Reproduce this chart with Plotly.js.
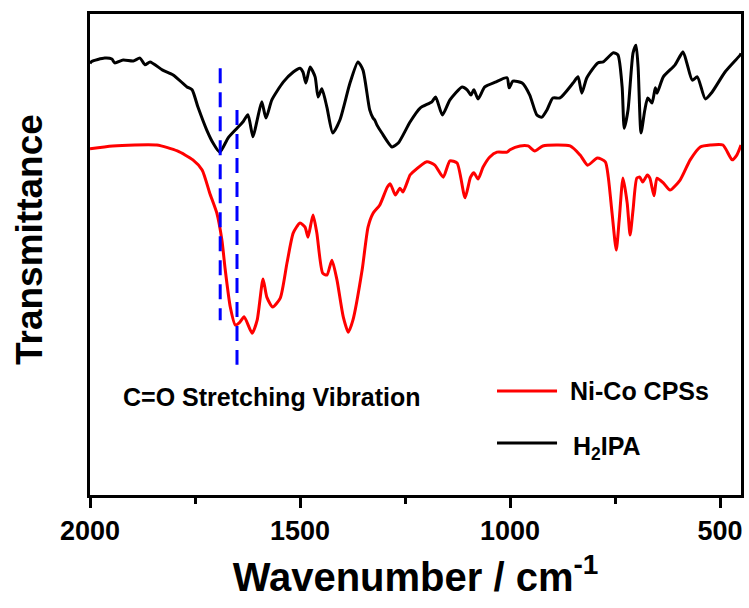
<!DOCTYPE html>
<html>
<head>
<meta charset="utf-8">
<script src="https://cdn.plot.ly/plotly-3.0.1.min.js"></script>
<style>html,body{margin:0;padding:0;background:#fff;}#chart{width:749px;height:608px;}</style>
</head>
<body>
<div id="chart"></div>
<script>
// Wavenumber (cm-1) and transmittance (arb. units)
const h2ipaWavenumber = [2000,1996,1965,1948,1941,1921,1897,1881,1869,1857,1827,1802,1769,1757,1743,1722,1707,1691,1671,1650,1636,1624,1612,1602,1591,1581,1567,1540,1516,1500,1493,1486,1476,1464,1457,1448,1436,1422,1405,1381,1362,1350,1334,1326,1322,1317,1305,1281,1266,1238,1214,1186,1177,1161,1143,1114,1102,1093,1086,1076,1060,1035,1007,1002,993,971,953,936,924,912,898,881,850,838,829,817,791,778,754,743,733,728,719,707,700,695,688,679,672,662,654,650,635,607,588,579,566,554,535,519,488,452,450];
const h2ipaT = [89.5,89.9,90.6,90.4,89.6,90.2,90.0,90.6,89.2,89.8,88.1,87.1,84.6,84.0,80.4,75.6,72.9,71.0,74.0,76.0,77.3,78.8,74.2,77.7,81.5,78.1,81.9,85.6,87.7,88.5,87.7,85.4,88.75,86.7,82.5,84.2,80.4,75.0,77.7,85.4,89.8,88.1,79.8,78.1,77.7,76.7,75.0,72.1,72.9,77.3,80.2,81.5,82.5,78.75,81.9,84.6,84.0,82.9,84.0,82.1,84.6,85.6,86.5,84.4,85.8,85.4,82.9,78.75,78.3,79.8,82.3,82.3,85.4,86.7,83.3,86.5,89.6,89.8,91.7,91.25,84.6,76.0,79.8,91.7,93.3,88.75,75.0,79.8,82.3,81.25,84.4,83.3,86.7,89.2,91.9,89.6,86.0,86.7,82.1,83.5,87.7,91.25,91.6];

const nicoWavenumber = [2000,1946,1841,1792,1755,1733,1715,1698,1686,1678,1666,1654,1643,1633,1614,1602,1588,1579,1565,1547,1531,1516,1500,1488,1481,1469,1460,1446,1436,1424,1412,1397,1385,1374,1352,1338,1326,1310,1292,1285,1273,1262,1255,1238,1233,1198,1179,1159,1143,1126,1107,1094,1086,1076,1064,1048,1031,1007,1000,976,957,941,922,857,833,815,792,773,766,757,747,740,731,721,714,707,698,691,684,673,667,657,650,635,619,595,571,547,523,493,471,460,450];
const nicoT = [71.7,72.3,72.5,71.25,69.4,67.3,62.5,58.3,52.7,46.5,38.75,35.0,35.6,36.7,33.3,36.0,44.6,40.8,38.75,40.6,47.9,54.2,56.25,55.4,53.3,57.9,54.2,45.8,45.4,48.5,44.4,36.7,33.5,36.0,46.5,55.4,58.3,60.0,63.75,64.4,62.1,63.5,62.7,66.25,66.7,69.0,68.3,65.8,69.2,68.75,61.5,65.8,66.7,65.4,67.9,70.0,71.0,71.0,71.5,72.3,72.3,71.25,72.3,72.3,70.4,68.3,69.8,69.0,65.8,58.3,50.6,56.9,65.6,60.4,53.75,59.0,65.6,65.8,64.8,66.25,65.6,61.9,65.6,64.6,63.1,65.2,69.4,72.1,72.5,72.5,69.4,70.4,72.5];

// C=O stretching guide lines
const guide1Wavenumber = [1690,1690];
const guide1T = [88.5,36.0];
const guide2Wavenumber = [1650,1650];
const guide2T = [79.8,26.7];

const xTickVals = [2000,1500,1000,500];
const xTickText = ['2000','1500','1000','500'];

const seriesNames = ['Ni-Co CPSs','H<sub>2</sub>IPA'];
const annotationText = 'C=O Stretching Vibration';
const yTitleText = 'Transmittance';
const xTitleText = 'Wavenumber / cm<sup>-1</sup>';

const FONT = 'Liberation Sans, Arial, Helvetica, sans-serif';

const traces = [
  {x: h2ipaWavenumber, y: h2ipaT, type:'scatter', mode:'lines', name: seriesNames[1],
   line:{color:'#000000', width:3, shape:'spline', smoothing:0.6}, showlegend:false, hoverinfo:'x+y'},
  {x: nicoWavenumber, y: nicoT, type:'scatter', mode:'lines', name: seriesNames[0],
   line:{color:'#ff0000', width:3, shape:'spline', smoothing:0.6}, showlegend:false, hoverinfo:'x+y'},
  {x: guide1Wavenumber, y: guide1T, type:'scatter', mode:'lines', showlegend:false,
   line:{color:'#0000ff', width:3, dash:'15px,9px'}, hoverinfo:'skip'},
  {x: guide2Wavenumber, y: guide2T, type:'scatter', mode:'lines', showlegend:false,
   line:{color:'#0000ff', width:3, dash:'15px,9px'}, hoverinfo:'skip'}
];

const legX0 = 0.6252, legX1 = 0.7174;
const legY = [0.2162, 0.1081];
const legColors = ['#ff0000','#000000'];

const shapes = legY.map((yy,i)=>({type:'line', xref:'paper', yref:'paper', x0:legX0, x1:legX1, y0:yy, y1:yy,
  line:{color:legColors[i], width:3}}));

const boldFont = (s)=>({family:FONT, size:s, color:'#000', weight:'bold'});

const annotations = [
  {text: '<b>'+annotationText+'</b>', xref:'paper', yref:'paper', x:0.2796, y:0.2037, xanchor:'center', yanchor:'middle',
   showarrow:false, font:boldFont(25)},
  {text: '<b>'+seriesNames[0]+'</b>', xref:'paper', yref:'paper', x:0.7343, y:legY[0], xanchor:'left', yanchor:'middle',
   showarrow:false, font:boldFont(25)},
  {text: '<b>'+seriesNames[1]+'</b>', xref:'paper', yref:'paper', x:0.7389, y:legY[1]-0.01, xanchor:'left', yanchor:'middle',
   showarrow:false, font:boldFont(25)},
  {text: '<b>'+yTitleText+'</b>', xref:'paper', yref:'paper', x:-0.0937, y:0.530, xanchor:'center', yanchor:'middle',
   textangle:-90, showarrow:false, font:boldFont(37)}
];

const layout = {
  width:749, height:608,
  margin:{l:90, r:8, t:14, b:113, pad:0},
  paper_bgcolor:'#fff', plot_bgcolor:'#fff',
  showlegend:false,
  xaxis:{
    range:[2000,450], autorange:false,
    tickvals:xTickVals, ticktext:xTickText,
    ticks:'outside', ticklen:10, tickwidth:3, tickcolor:'#000',
    minor:{dtick:250, tick0:0, ticks:'outside', ticklen:6, tickwidth:3, tickcolor:'#000', showgrid:false},
    showline:true, linewidth:3, linecolor:'#000', mirror:true,
    showgrid:false, zeroline:false,
    tickfont:boldFont(27),
    title:{text:'<b>'+xTitleText+'</b>', standoff:18, font:boldFont(40)},
    automargin:false
  },
  yaxis:{
    range:[-0.42,99.79], autorange:false,
    showticklabels:false, ticks:'',
    showline:true, linewidth:3, linecolor:'#000', mirror:true,
    showgrid:false, zeroline:false,
    automargin:false
  },
  shapes: shapes,
  annotations: annotations
};

Plotly.newPlot('chart', traces, layout, {displayModeBar:false, staticPlot:true});
</script>
</body>
</html>
